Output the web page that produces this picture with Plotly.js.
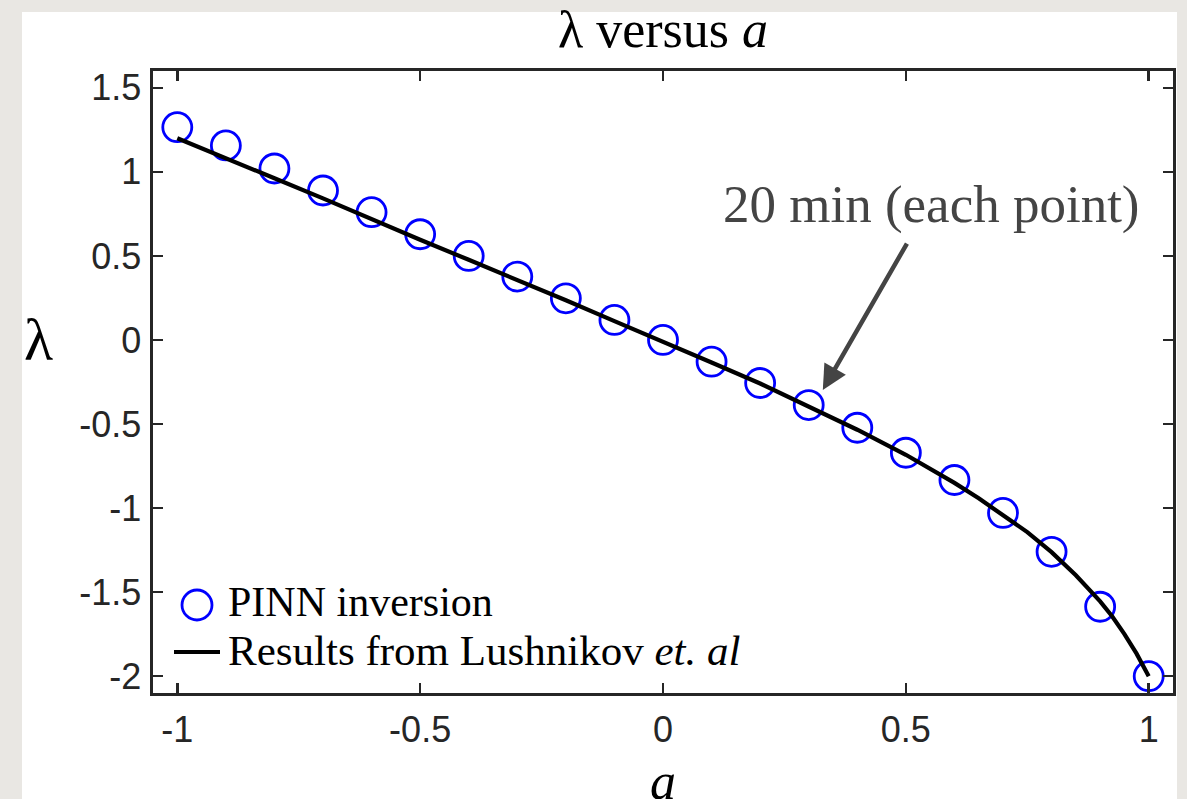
<!DOCTYPE html>
<html>
<head>
<meta charset="utf-8">
<script src="https://cdn.plot.ly/plotly-3.0.1.min.js"></script>
<style>
  html, body { margin: 0; padding: 0; background: #e9e7e3; }
  #chart { width: 1187px; height: 799px; }
</style>
</head>
<body>
<div id="chart"></div>
<script>
// PINN inversion estimates of lambda at each value of a
const aPinn = [-1, -0.9, -0.8, -0.7, -0.6, -0.5, -0.4, -0.3, -0.2, -0.1, 0,
               0.1, 0.2, 0.3, 0.4, 0.5, 0.6, 0.7, 0.8, 0.9, 1];
const lambdaPinn = [1.266, 1.157, 1.020, 0.889, 0.760, 0.629, 0.500, 0.377, 0.248, 0.119, 0.000,
                    -0.129, -0.256, -0.387, -0.522, -0.671, -0.833, -1.029, -1.260, -1.587, -2.000];

// Reference curve (Lushnikov et al.)
const aRef = [-1, -0.9, -0.8, -0.7, -0.6, -0.5, -0.4, -0.3, -0.2, -0.1, 0,
              0.1, 0.2, 0.3, 0.4, 0.5, 0.6, 0.65, 0.7, 0.75, 0.8, 0.85, 0.9, 0.925, 0.95, 0.975, 1];
const lambdaRef = [1.200, 1.083, 0.962, 0.842, 0.718, 0.596, 0.477, 0.359, 0.236, 0.112, -0.008,
                   -0.134, -0.259, -0.394, -0.534, -0.683, -0.850, -0.942, -1.040, -1.143, -1.262,
                   -1.400, -1.555, -1.645, -1.750, -1.866, -2.000];

// Axis ticks
const xTickVals = [-1, -0.5, 0, 0.5, 1];
const xTickText = ['-1', '-0.5', '0', '0.5', '1'];
const yTickVals = [-2, -1.5, -1, -0.5, 0, 0.5, 1, 1.5];
const yTickText = ['-2', '-1.5', '-1', '-0.5', '0', '0.5', '1', '1.5'];

// Text
const titleText = 'λ versus <i>a</i>';
const xLabel = '<i>a</i>';
const yLabel = 'λ';
const noteText = '20 min (each point)';
const legendPinn = 'PINN inversion';
const legendRef = 'Results from Lushnikov <i>et. al</i>';

const axisColor = '#262626';
const serif = 'Liberation Serif, Times New Roman, serif';
const sans = 'Liberation Sans, Arial, Helvetica, sans-serif';

const traces = [
  {
    x: aPinn, y: lambdaPinn, type: 'scatter', mode: 'markers', name: legendPinn,
    marker: { symbol: 'circle-open', size: 29, color: '#0000ff', line: { width: 2.8, color: '#0000ff' } },
    showlegend: false
  },
  {
    x: aRef, y: lambdaRef, type: 'scatter', mode: 'lines', name: legendRef,
    line: { color: '#000000', width: 4.2 },
    showlegend: false
  }
];

const commonAxis = {
  showgrid: false, zeroline: false,
  showline: true, linecolor: axisColor, linewidth: 2.6, mirror: 'ticks',
  ticks: 'inside', ticklen: 10, tickwidth: 2.6, tickcolor: axisColor,
  tickfont: { family: sans, size: 36, color: axisColor },
  tickmode: 'array'
};

// plot-area pixel helpers for placing legend keys and labels
const L = 153, R = 1173, T = 71, B = 693;
const px = v => (v - L) / (R - L);
const py = v => (B - v) / (B - T);

const layout = {
  width: 1187, height: 799,
  margin: { l: L, r: 1187 - R, t: T, b: 799 - B, pad: 0 },
  paper_bgcolor: '#e9e7e3',
  plot_bgcolor: '#ffffff',
  showlegend: false,
  title: {
    text: titleText, font: { family: serif, size: 52, color: '#000' },
    x: 0.5, xref: 'paper', xanchor: 'center', y: 1 - 29 / 799, yref: 'container', yanchor: 'middle'
  },
  xaxis: Object.assign({}, commonAxis, {
    range: [-1.05, 1.05], tickvals: xTickVals, ticktext: xTickText, ticklabelstandoff: 3
  }),
  yaxis: Object.assign({}, commonAxis, {
    range: [-2.1, 1.6], tickvals: yTickVals, ticktext: yTickText, ticklabelstandoff: 2
  }),
  shapes: [
    // white panel behind the figure
    { type: 'rect', xref: 'paper', yref: 'paper', layer: 'below',
      x0: px(22), x1: px(1177), y0: py(812), y1: py(12),
      fillcolor: '#ffffff', line: { width: 0 } },
    // legend keys
    { type: 'circle', xref: 'paper', yref: 'paper', xsizemode: 'pixel', ysizemode: 'pixel',
      xanchor: px(197), yanchor: py(605), x0: -15, x1: 15, y0: -15, y1: 15,
      line: { color: '#0000ff', width: 2.8 } },
    { type: 'line', xref: 'paper', yref: 'paper', xsizemode: 'pixel', ysizemode: 'pixel',
      xanchor: px(197), yanchor: py(652), x0: -23, x1: 23, y0: 0, y1: 0,
      line: { color: '#000000', width: 4.2 } }
  ],
  annotations: [
    { text: yLabel, xref: 'paper', yref: 'paper', x: px(38), y: py(340),
      xanchor: 'center', yanchor: 'middle', showarrow: false,
      font: { family: serif, size: 60, color: '#000' } },
    { text: xLabel, xref: 'paper', yref: 'paper', x: 0.5, y: py(781),
      xanchor: 'center', yanchor: 'middle', showarrow: false,
      font: { family: serif, size: 52, color: '#000' } },
    { text: noteText, xref: 'x', yref: 'y', x: 0.553, y: 0.806,
      xanchor: 'center', yanchor: 'middle', showarrow: false,
      font: { family: serif, size: 53, color: '#444444' } },
    { text: '', xref: 'x', yref: 'y', x: 0.329, y: -0.298,
      showarrow: true, axref: 'pixel', ayref: 'pixel', ax: 85, ay: -148,
      arrowcolor: '#444444', arrowwidth: 4.5, arrowhead: 2, arrowsize: 1.1, standoff: 0 },
    { text: legendPinn, xref: 'paper', yref: 'paper', x: px(226), y: py(602),
      xanchor: 'left', yanchor: 'middle', showarrow: false,
      font: { family: serif, size: 42, color: '#000' } },
    { text: legendRef, xref: 'paper', yref: 'paper', x: px(226), y: py(650),
      xanchor: 'left', yanchor: 'middle', showarrow: false,
      font: { family: serif, size: 43, color: '#000' } }
  ]
};

Plotly.newPlot('chart', traces, layout, { displayModeBar: false, staticPlot: true });
</script>
</body>
</html>
